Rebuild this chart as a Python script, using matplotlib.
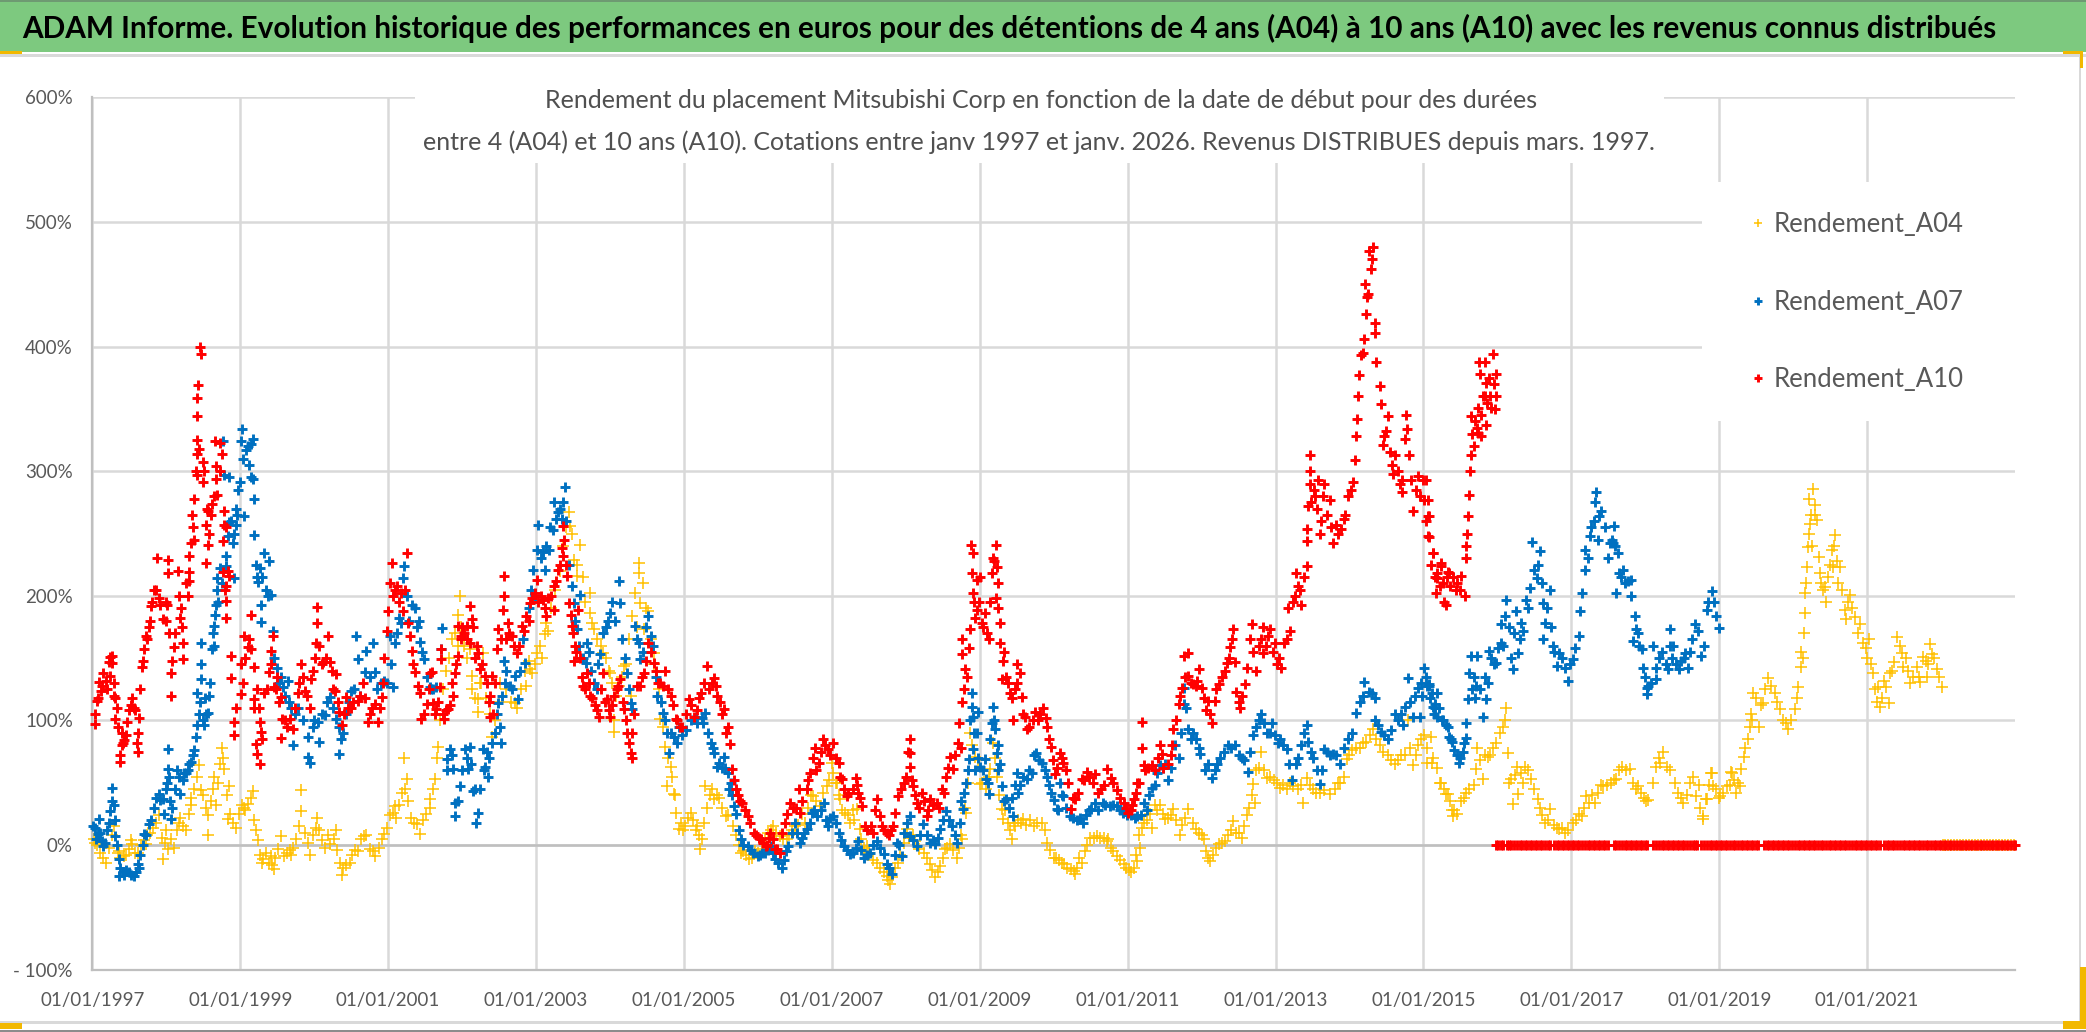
import matplotlib
matplotlib.use("Agg")
import matplotlib.pyplot as plt
from matplotlib.patches import Rectangle

W, H = 2086, 1032

title = "ADAM Informe. Evolution historique des performances en euros pour des détentions de 4 ans (A04) à 10 ans (A10) avec les revenus connus distribués"
subtitle_1 = "Rendement du placement Mitsubishi Corp en fonction de la date de début pour des durées"
subtitle_2 = "entre 4 (A04) et 10 ans (A10). Cotations entre janv 1997 et janv. 2026. Revenus DISTRIBUES depuis mars. 1997."

y_ticks = [-100, 0, 100, 200, 300, 400, 500, 600]
y_labels = ["- 100%", "0%", "100%", "200%", "300%", "400%", "500%", "600%"]
x_ticks = [1997, 1999, 2001, 2003, 2005, 2007, 2009, 2011, 2013, 2015, 2017, 2019, 2021]
x_labels = ["01/01/" + str(y) for y in x_ticks]

# values: (year, return in %)
a10 = [
    (1997.04,97),(1997.06,116),(1997.11,124),(1997.09,131),(1997.15,138),(1997.22,147),(1997.24,151),(1997.27,152),(1997.24,136),(1997.29,130),(1997.29,120),
    (1997.33,110),(1997.31,101),(1997.40,90),(1997.43,84),(1997.40,80),(1997.37,72),(1997.37,67),(1997.47,99),(1997.54,118),(1997.56,110),(1997.63,102),(1997.61,90),(1997.61,75),
    (1997.65,125),(1997.67,143),(1997.70,157),(1997.76,175),(1997.72,168),(1997.83,205),(1997.79,192),(1997.88,230),(1997.92,193),(1997.95,181),(1998.02,229),(1998.02,218),(1998.01,193),
    (1998.04,170),(1998.10,159),(1998.08,148),(1998.06,138),(1998.06,120),(1998.16,220),(1998.17,200),(1998.19,182),(1998.23,162),(1998.23,149),(1998.26,210),(1998.31,219),(1998.31,232),
    (1998.33,242),(1998.35,265),(1998.38,278),(1998.42,297),(1998.41,314),(1998.42,325),(1998.42,344),(1998.42,359),(1998.43,369),(1998.47,394),(1998.46,400),(1998.49,307),(1998.49,291),
    (1998.53,226),(1998.56,241),(1998.53,257),(1998.56,268),(1998.62,274),(1998.69,281),(1998.67,294),(1998.67,304),(1998.66,324),(1998.73,323),(1998.75,314),(1998.78,268),(1998.78,257),
    (1998.77,244),(1998.76,219),(1998.81,208),(1998.85,216),(1998.81,196),(1998.81,182),(1998.87,152),(1998.88,134),(1999.01,121),(1998.94,110),(1998.92,99),(1998.91,88),(1999.01,145),
    (1999.05,168),(1999.10,159),(1999.14,157),(1999.14,185),(1999.18,143),(1999.19,117),(1999.19,110),(1999.26,99),(1999.28,91),(1999.21,81),(1999.22,73),(1999.27,65),(1999.32,122),
    (1999.42,156),(1999.44,168),(1999.39,139),(1999.46,127),(1999.55,119),(1999.57,101),(1999.55,86),(1999.67,101),(1999.71,93),(1999.78,122),(1999.82,145),(1999.87,124),(1999.96,133),
    (1999.94,110),(2000.03,162),(2000.04,191),(2000.04,178),(2000.12,147),(2000.19,168),(2000.21,147),(2000.30,137),(2000.28,124),(2000.34,107),(2000.37,96),(2000.43,119),(2000.50,110),
    (2000.59,116),(2000.66,130),(2000.73,99),(2000.82,113),(2000.86,99),(2000.91,119),(2000.95,150),(2001.00,188),(2001.05,226),(2001.09,205),(2001.18,202),(2001.25,234),(2001.20,188),
    (2001.29,168),(2001.32,156),(2001.36,139),(2001.43,122),(2001.45,101),(2001.52,113),(2001.59,139),
    (2001.56,138),(2001.61,114),(2001.65,109),(2001.70,127),(2001.72,149),(2001.72,157),(2001.76,101),(2001.81,109),(2001.88,120),(2001.90,138),(2001.95,152),(2001.95,176),(2001.99,168),
    (2002.06,176),(2002.10,192),(2002.13,181),(2002.10,162),(2002.22,154),(2002.24,141),(2002.31,136),(2002.40,136),(2002.38,120),(2002.38,103),(2002.47,157),(2002.49,173),(2002.56,216),
    (2002.57,200),(2002.55,189),(2002.62,178),(2002.67,168),(2002.74,154),(2002.81,176),(2002.87,184),(2002.92,194),(2002.99,202),(2003.01,213),(2003.10,197),(2003.14,184),(2003.24,189),
    (2003.24,208),(2003.30,221),(2003.37,232),(2003.38,245),(2003.37,256),(2003.42,216),(2003.44,194),(2003.48,176),(2003.53,160),(2003.51,148),(2003.57,189),(2003.64,128),(2003.69,138),
    (2003.73,120),(2003.80,112),(2003.85,103),(2003.91,138),(2003.96,117),(2004.00,103),(2004.05,120),(2004.14,133),(2004.19,109),(2004.23,90),(2004.28,74),(2004.30,70),(2004.30,90),
    (2004.37,128),(2004.46,138),(2004.52,162),(2004.59,146),(2004.68,130),(2004.75,140),(2004.82,120),(2004.89,101),(2004.95,95),(2005.07,117),(2005.14,103),(2005.23,122),(2005.31,144),
    (2005.41,134),(2005.45,120),(2005.54,109),(2005.59,95),(2005.62,81),(2005.65,61),(2005.70,45),(2005.79,34),(2005.86,23),(2005.95,10),(2006.04,5),(2006.11,-1),(2006.15,6),
    (2006.17,10),(2006.26,-3),(2006.30,-6),(2006.37,18),(2006.44,34),(2006.55,45),(2006.57,26),(2006.66,45),(2006.71,58),(2006.77,78),(2006.82,66),(2006.88,85),(2006.95,77),(2007.02,82),
    (2007.09,66),(2007.14,53),(2007.20,39),(2007.32,54),(2007.36,42),(2007.41,31),(2007.45,15),(2007.56,10),(2007.61,37),(2007.65,23),(2007.74,10),(2007.83,15),(2007.86,26),(2007.90,39),
    (2007.97,50),(2008.00,55),(2008.05,85),(2008.05,74),(2008.06,63),(2008.10,47),(2008.15,34),(2008.22,42),(2008.28,23),(2008.33,37),(2008.42,34),(2008.49,45),(2008.55,55),(2008.60,71),
    (2008.64,61),(2008.71,82),(2008.72,98),(2008.76,115),(2008.80,141),(2008.76,153),(2008.76,165),(2008.86,158),(2008.87,173),(2008.88,241),(2008.91,234),(2008.89,218),(2008.91,202),
    (2008.96,213),(2009.00,215),(2008.96,189),(2008.94,182),(2009.05,175),(2009.07,186),(2009.12,165),(2009.14,195),(2009.16,218),(2009.18,230),(2009.22,241),(2009.23,223),(2009.25,210),
    (2009.22,198),(2009.27,178),(2009.27,162),(2009.33,155),(2009.30,133),(2009.36,135),(2009.41,122),(2009.50,145),(2009.51,130),(2009.57,119),(2009.45,100),(2009.61,103),(2009.64,93),
    (2009.75,107),(2009.86,110),(2009.91,95),(2009.97,79),(2010.02,57),(2010.09,74),(2010.13,66),(2010.20,50),(2010.24,29),(2010.29,37),(2010.38,53),(2010.45,59),(2010.56,57),(2010.60,42),(2010.72,61),
    (2010.77,54),(2010.86,44),(2010.95,34),(2011.04,28),(2011.08,37),(2011.15,50),(2011.20,99),(2011.20,78),(2011.22,64),(2011.33,64),(2011.44,80),(2011.46,73),(2011.55,65),(2011.60,80),
    (2011.62,93),(2011.69,113),(2011.73,126),(2011.76,152),(2011.81,154),(2011.82,136),(2011.89,129),(2011.97,141),(2012.00,126),(2012.09,116),(2012.14,98),(2012.18,116),(2012.23,129),
    (2012.34,146),(2012.39,159),(2012.43,173),(2012.45,147),(2012.47,123),(2012.52,110),(2012.59,129),(2012.62,142),(2012.73,140),(2012.68,177),(2012.70,155),(2012.83,175),(2012.83,154),
    (2012.92,173),(2012.99,162),(2013.08,142),(2013.12,162),(2013.19,172),(2013.17,190),(2013.31,208),(2013.28,218),(2013.35,193),(2013.42,224),(2013.42,244),(2013.42,254),(2013.44,272),
    (2013.46,313),(2013.46,300),(2013.46,290),(2013.58,293),(2013.53,280),(2013.62,260),(2013.60,250),(2013.66,290),(2013.73,277),(2013.78,242),(2013.82,257),(2013.89,254),(2013.98,280),
    (2013.94,265),(2014.05,291),(2014.07,309),(2014.10,342),(2014.09,328),(2014.13,377),(2014.16,393),(2014.19,406),(2014.21,450),(2014.23,426),(2014.25,442),(2014.27,477),(2014.32,480),
    (2014.29,462),(2014.34,419),(2014.35,411),(2014.36,388),(2014.41,368),(2014.43,354),(2014.45,321),(2014.52,344),(2014.50,332),(2014.61,313),(2014.59,298),(2014.77,345),(2014.78,334),
    (2014.75,326),(2014.81,313),(2014.71,293),(2014.71,283),(2014.83,293),(2014.86,268),(2014.92,296),(2014.99,293),(2015.01,277),(2015.07,264),(2015.08,247),(2015.13,234),(2015.19,214),
    (2015.24,224),(2015.28,195),(2015.33,219),(2015.03,293),(2015.06,277),(2015.06,264),(2015.06,248),(2015.13,234),(2015.19,218),(2015.17,202),(2015.30,193),(2015.24,226),(2015.35,218),
    (2015.44,205),(2015.51,216),(2015.56,200),(2015.57,230),(2015.58,240),(2015.59,250),(2015.60,264),(2015.61,281),(2015.63,300),(2015.65,313),(2015.68,320),(2015.65,344),(2015.74,331),
    (2015.78,328),(2015.85,337),(2015.74,351),(2015.75,388),(2015.83,388),(2015.76,378),(2015.85,371),(2015.83,360),(2015.94,394),(2015.98,378),(2015.98,360),(2015.92,351),
]
# second pass over the same clouds
a10_more = [
    (1997.03,105),(1997.08,118),(1997.13,128),(1997.18,132),(1997.20,125),(1997.26,146),(1997.31,118),(1997.35,95),(1997.42,82),(1997.45,88),(1997.50,108),(1997.52,112),(1997.58,108),(1997.60,82),
    (1997.69,148),(1997.74,165),(1997.78,180),(1997.81,195),(1997.86,205),(1997.90,198),(1997.99,195),(1998.00,180),(1998.12,170),(1998.20,190),(1998.21,175),(1998.29,200),(1998.30,212),(1998.36,255),
    (1998.37,245),(1998.40,300),(1998.44,318),(1998.51,300),(1998.55,270),(1998.58,250),(1998.60,265),(1998.64,280),(1998.72,300),(1998.80,255),(1998.83,220),(1998.79,205),(1999.03,130),(1999.07,150),
    (1999.12,165),(1999.23,125),(1999.25,110),(1999.30,85),(1999.36,125),(1999.41,145),(1999.48,125),(1999.50,135),(1999.53,115),(1999.60,100),(1999.63,95),(1999.74,110),(1999.80,130),(1999.85,135),
    (1999.90,120),(1999.98,140),(2000.01,150),(2000.07,160),(2000.10,145),(2000.16,150),(2000.24,140),(2000.26,125),(2000.32,115),(2000.40,105),(2000.46,110),(2000.53,115),(2000.62,120),(2000.69,118),
    (2000.76,105),(2000.78,110),(2000.89,110),(2000.93,130),(2000.98,172),(2001.03,210),(2001.07,200),(2001.12,208),(2001.15,195),(2001.23,205),(2001.27,178),(2001.34,145),(2001.40,128),(2001.48,105),(2001.55,125),
    (2001.63,105),(2001.67,115),(2001.74,105),(2001.78,108),(2001.84,112),(2001.86,130),(2001.92,145),(2001.98,165),(2002.00,175),(2002.03,170),(2002.07,165),(2002.15,175),(2002.18,150),(2002.20,160),
    (2002.27,145),(2002.33,130),(2002.36,115),(2002.42,105),(2002.44,130),(2002.52,165),(2002.60,165),(2002.64,170),(2002.70,160),(2002.77,160),(2002.83,172),(2002.90,180),(2002.95,198),(2003.03,195),
    (2003.06,200),(2003.12,190),(2003.16,198),(2003.20,200),(2003.27,212),(2003.33,225),(2003.35,238),(2003.41,225),(2003.47,185),(2003.50,170),(2003.54,155),(2003.59,150),(2003.62,135),(2003.66,125),
    (2003.71,130),(2003.76,118),(2003.83,108),(2003.88,125),(2003.93,115),(2003.98,108),(2004.03,112),(2004.09,125),(2004.11,128),(2004.17,115),(2004.21,100),(2004.26,82),(2004.33,105),(2004.40,128),
    (2004.43,135),(2004.49,148),(2004.56,155),(2004.62,140),(2004.65,130),(2004.72,128),(2004.78,125),(2004.85,112),(2004.91,100),(2004.98,95),(2005.03,105),(2005.10,112),(2005.18,108),(2005.20,118),
    (2005.27,130),(2005.34,125),(2005.38,130),(2005.43,128),(2005.49,115),(2005.52,105),(2005.57,90),(2005.67,52),(2005.73,40),(2005.76,35),(2005.82,28),(2005.89,18),(2005.98,8),(2006.01,6),(2006.07,2),(2006.12,0),
    (2006.20,5),(2006.23,-3),(2006.33,10),(2006.40,25),(2006.47,30),(2006.52,30),(2006.60,35),(2006.68,52),(2006.75,70),(2006.79,60),(2006.85,75),(2006.91,80),(2006.98,72),(2007.05,70),(2007.11,55),
    (2007.17,45),(2007.22,42),(2007.28,45),(2007.34,48),(2007.38,38),(2007.48,12),(2007.53,15),(2007.59,28),(2007.68,15),(2007.71,12),(2007.77,8),(2007.80,12),(2007.93,45),(2008.03,75),(2008.08,52),
    (2008.13,40),(2008.18,30),(2008.25,35),(2008.30,28),(2008.37,32),(2008.45,30),(2008.52,42),(2008.57,62),(2008.67,72),(2008.74,78),(2008.79,125),(2008.83,135),(2008.92,195),(2008.99,195),(2009.03,178),
    (2009.10,170),(2009.19,228),(2009.24,190),(2009.31,148),(2009.38,130),(2009.44,118),(2009.47,125),(2009.54,138),(2009.59,105),(2009.66,95),(2009.72,100),(2009.79,100),(2009.82,105),(2009.89,102),
    (2009.94,85),(2009.99,68),(2010.05,62),(2010.11,70),(2010.16,60),(2010.26,38),(2010.33,42),(2010.41,52),(2010.48,55),(2010.53,50),(2010.64,45),(2010.68,48),
    (2010.80,50),(2010.90,38),(2010.98,30),(2011.01,26),(2011.06,32),(2011.11,42),(2011.13,50),(2011.24,60),(2011.28,62),(2011.37,60),(2011.41,70),(2011.48,62),(2011.58,72),(2011.66,100),(2011.71,120),
    (2011.78,135),(2011.85,130),(2011.92,128),(2011.94,132),(2012.03,118),(2012.06,108),(2012.12,105),(2012.20,125),(2012.28,135),(2012.31,140),(2012.37,150),(2012.41,165),(2012.50,115),(2012.55,120),
    (2012.66,165),(2012.77,160),(2012.80,165),(2012.87,160),(2012.90,168),(2012.96,155),(2013.02,145),(2013.05,150),(2013.15,165),(2013.24,195),(2013.26,200),(2013.33,205),(2013.38,215),(2013.48,275),
    (2013.52,285),(2013.56,270),(2013.64,280),(2013.69,265),(2013.75,255),(2013.85,250),(2013.92,262),(2014.02,285),(2014.12,360),(2014.18,395),(2014.24,440),(2014.30,470),(2014.47,328),(2014.55,315),
    (2014.57,305),(2014.66,300),(2014.68,290),(2014.90,285),(2014.96,280),(2015.04,260),(2015.10,225),(2015.15,215),(2015.22,208),(2015.27,210),(2015.32,215),(2015.36,208),(2015.40,215),(2015.46,210),
    (2015.50,205),(2015.66,330),(2015.70,340),(2015.72,335),(2015.78,345),(2015.80,360),(2015.86,355),(2015.88,375),(2015.90,360),(2015.95,370),(2015.97,350),
]
a10_zero_dates = [
    2015.98,2016.01,2016.05,2016.08,2016.13,2016.16,2016.19,2016.23,2016.26,2016.30,2016.33,2016.37,2016.40,2016.44,2016.47,2016.51,2016.54,2016.58,2016.61,2016.65,2016.68,2016.71,2016.76,2016.80,2016.83,2016.87,2016.90,2016.94,2016.97,
    2017.01,2017.04,2017.08,2017.11,2017.15,2017.18,2017.22,2017.25,2017.29,2017.32,2017.36,2017.39,2017.43,2017.46,2017.50,2017.58,2017.61,2017.65,2017.68,2017.72,2017.75,2017.79,2017.82,2017.86,2017.89,2017.93,2017.96,2018.00,2018.03,
    2018.11,2018.15,2018.18,2018.22,2018.25,2018.29,2018.32,2018.36,2018.39,2018.43,2018.46,2018.50,2018.53,2018.57,2018.60,2018.64,2018.67,2018.70,2018.76,2018.80,2018.83,2018.87,2018.90,2018.94,2018.97,
    2019.01,2019.04,2019.08,2019.11,2019.15,2019.18,2019.22,2019.25,2019.29,2019.32,2019.36,2019.39,2019.43,2019.46,2019.50,2019.53,2019.60,2019.64,2019.67,2019.71,2019.74,2019.78,2019.81,2019.85,2019.88,2019.92,2019.95,2019.99,
    2020.02,2020.06,2020.09,2020.13,2020.16,2020.20,2020.23,2020.27,2020.30,2020.34,2020.37,2020.41,2020.44,2020.48,2020.51,2020.55,2020.58,2020.62,2020.65,2020.69,2020.72,2020.76,2020.79,2020.83,2020.86,2020.90,2020.93,2020.97,
    2021.00,2021.04,2021.07,2021.11,2021.14,2021.17,2021.23,2021.27,2021.30,2021.34,2021.37,2021.41,2021.44,2021.48,2021.51,2021.55,2021.58,2021.62,2021.65,2021.69,2021.72,2021.76,2021.79,2021.83,2021.86,2021.90,2021.93,2021.97,
    2022.00,2022.04,2022.07,2022.11,2022.14,2022.18,2022.21,2022.25,2022.28,2022.32,2022.35,2022.39,2022.42,2022.46,2022.49,2022.53,2022.56,2022.60,2022.63,2022.67,2022.70,2022.74,2022.77,2022.81,2022.84,2022.88,2022.91,2022.95,2022.98,2023.00,
]

a07 = [
    (1997.03,14),(1997.09,21),(1997.07,9),(1997.15,-1),(1997.20,12),(1997.24,27),(1997.27,46),(1997.29,32),(1997.31,7),(1997.36,-11),(1997.36,-25),(1997.43,-24),(1997.49,-22),(1997.56,-25),
    (1997.63,-18),(1997.65,-8),(1997.70,9),(1997.76,17),(1997.83,30),(1997.90,41),(1997.95,37),(1998.02,77),(1998.02,61),(1998.01,50),(1998.08,30),(1998.06,21),(1998.17,55),(1998.19,41),
    (1998.26,58),(1998.33,67),(1998.38,76),(1998.40,87),(1998.42,96),(1998.51,96),(1998.42,122),(1998.47,133),(1998.47,145),(1998.47,162),(1998.56,106),(1998.59,130),(1998.62,157),(1998.65,176),
    (1998.67,193),(1998.69,214),(1998.73,222),(1998.81,224),(1998.92,214),(1998.90,242),(1998.94,257),(1998.85,259),(1998.94,270),(1998.78,297),(1998.85,295),(1998.76,324),(1998.99,291),
    (1999.02,334),(1999.01,324),(1999.08,317),(1999.17,326),(1999.12,305),(1999.17,294),(1999.19,278),(1999.05,264),(1999.18,249),(1999.21,225),(1999.32,234),(1999.39,228),(1999.24,211),
    (1999.42,201),(1999.28,193),(1999.28,179),(1999.44,172),(1999.49,142),(1999.58,127),(1999.64,132),(1999.69,110),(1999.71,80),(1999.91,71),(1999.94,66),(1999.91,87),(2000.05,99),(2000.07,83),
    (2000.21,119),(2000.14,104),(2000.30,101),(2000.34,73),(2000.39,90),(2000.50,124),(2000.57,168),(2000.59,149),(2000.70,156),(2000.80,162),(2000.68,139),(2000.82,139),(2000.95,132),(2001.07,127),
    (2001.02,168),(2001.09,162),(2001.14,182),(2001.22,224),(2001.20,214),(2001.32,193),(2001.41,180),(2001.43,163),(2001.48,149),(2001.57,127),
    (2001.73,174),(2001.72,157),(2001.65,127),(2001.58,125),(2001.83,77),(2001.79,69),(2001.88,61),(2001.90,34),(2001.90,23),(2001.97,47),(2002.04,77),(2002.08,61),(2002.10,79),(2002.15,43),
    (2002.24,45),(2002.21,26),(2002.19,18),(2002.28,77),(2002.31,63),(2002.35,55),(2002.40,82),(2002.49,114),(2002.51,95),(2002.53,82),(2002.56,148),(2002.58,130),(2002.65,128),(2002.71,136),
    (2002.75,117),(2002.85,146),(2002.96,221),(2003.01,237),(2003.03,257),(2003.12,221),(2003.17,237),(2003.24,275),(2003.23,253),(2003.30,267),(2003.39,287),(2003.37,275),(2003.48,208),
    (2003.51,194),(2003.60,201),(2003.55,173),(2003.69,162),(2003.67,146),(2003.78,130),(2003.87,153),(2003.91,170),(2004.00,186),(2004.12,212),(2004.14,194),(2004.16,165),(2004.23,138),
    (2004.28,114),(2004.30,109),(2004.34,176),(2004.39,162),(2004.41,149),(2004.52,184),(2004.55,168),(2004.64,120),(2004.71,106),(2004.77,90),(2004.80,74),(2004.86,87),(2004.93,95),
    (2005.18,98),(2005.29,106),(2005.32,90),(2005.41,74),(2005.45,63),(2005.54,71),(2005.59,58),(2005.61,45),(2005.68,31),(2005.77,5),(2005.86,-1),(2006.00,-9),(2006.09,-6),(2006.18,-1),
    (2006.17,-3),(2006.23,-11),(2006.32,-18),(2006.41,-1),(2006.50,18),(2006.57,2),(2006.66,13),(2006.73,26),(2006.80,23),(2006.89,34),(2006.95,15),(2007.02,23),(2007.09,10),(2007.16,-1),
    (2007.25,-7),(2007.36,3),(2007.43,-10),(2007.52,-6),(2007.61,3),(2007.70,-7),(2007.81,-23),(2007.88,2),(2007.95,-9),(2008.06,23),(2008.06,7),(2008.15,-1),(2008.23,17),(2008.33,2),
    (2008.40,1),(2008.46,13),(2008.55,27),(2008.62,15),(2008.69,2),(2008.73,18),(2008.78,29),(2008.79,42),(2008.82,50),(2008.86,69),(2008.89,122),(2008.89,111),(2008.91,103),(2008.98,107),
    (2008.96,90),(2008.91,77),(2009.00,63),(2009.07,69),(2009.09,53),(2009.12,41),(2009.16,98),(2009.18,111),(2009.21,93),(2009.23,74),(2009.27,65),(2009.30,47),(2009.36,37),(2009.45,23),
    (2009.50,58),(2009.52,42),(2009.64,53),(2009.70,58),(2009.76,74),(2009.84,66),(2009.91,55),(2009.97,42),(2010.04,29),(2010.09,50),(2010.13,39),(2010.22,23),(2010.40,18),(2010.51,29),
    (2010.67,34),(2010.76,31),
    (2010.86,31),(2010.99,24),(2011.13,23),(2011.22,34),(2011.26,28),(2011.33,46),(2011.54,52),(2011.44,64),(2011.51,65),(2011.64,80),(2011.69,70),(2011.76,113),(2011.76,126),(2011.82,93),
    (2011.93,85),(2011.98,73),(2012.09,65),(2012.14,54),(2012.25,70),(2012.36,80),(2012.45,80),(2012.54,70),(2012.63,59),(2012.70,88),(2012.81,105),(2012.88,90),(2012.95,98),(2013.06,85),
    (2013.15,77),(2013.22,52),(2013.31,70),(2013.42,96),(2013.44,83),(2013.51,70),(2013.60,49),(2013.66,77),(2013.78,73),(2013.87,65),(2013.98,85),(2014.09,106),(2014.20,131),(2014.27,123),
    (2014.34,118),(2014.34,100),(2014.43,91),(2014.52,85),(2014.61,105),(2014.72,96),(2014.75,111),(2014.79,134),(2014.86,103),(2014.93,126),(2015.01,142),(2015.08,129),(2015.15,113),(2015.21,110),
    (2015.30,96),(2015.35,87),
    (2015.18,122),(2015.16,110),(2015.05,128),(2014.98,120),(2014.95,103),(2015.08,128),(2015.13,111),(2015.19,103),(2015.33,95),(2015.39,83),(2015.48,66),(2015.53,75),(2015.58,86),(2015.58,98),
    (2015.60,117),(2015.62,138),(2015.64,152),(2015.73,152),(2015.71,128),(2015.80,103),(2015.85,117),(2015.87,130),(2015.89,156),(2015.98,146),(2016.05,162),(2016.05,177),(2016.12,197),
    (2016.10,184),(2016.21,141),(2016.28,154),(2016.23,170),(2016.25,188),(2016.32,178),(2016.39,197),(2016.44,206),(2016.47,243),(2016.50,221),(2016.58,236),(2016.53,214),(2016.71,205),
    (2016.62,194),(2016.64,178),(2016.62,165),(2016.75,160),(2016.84,154),(2016.80,144),(2016.95,132),(2017.02,149),(2017.10,168),(2017.12,188),(2017.14,202),(2017.18,221),(2017.19,237),
    (2017.25,248),(2017.32,275),(2017.33,283),(2017.36,245),(2017.38,264),(2017.49,230),(2017.58,256),(2017.56,242),(2017.63,234),(2017.70,221),(2017.65,218),(2017.61,202),(2017.81,213),
    (2017.81,200),(2017.86,184),(2017.88,173),(2017.84,164),(2017.95,157),(2017.97,142),(2018.02,121),(2018.04,128),(2018.14,133),(2018.11,160),(2018.34,173),(2018.15,142),(2018.34,160),
    (2018.31,141),(2018.38,160),(2018.45,141),(2018.58,142),(2018.54,154),(2018.67,177),(2018.63,165),(2018.80,160),(2018.75,152),(2018.90,204),(2018.83,189),(2018.95,184),(2019.00,174),
]
a07_more = [
    (1997.01,15),(1997.05,5),(1997.10,10),(1997.13,3),(1997.17,2),(1997.22,18),(1997.26,35),(1997.30,20),(1997.33,0),(1997.38,-18),(1997.41,-22),(1997.45,-20),(1997.52,-24),(1997.59,-22),(1997.61,-15),
    (1997.68,0),(1997.72,8),(1997.79,20),(1997.86,38),(1997.92,36),(1997.97,25),(1997.99,45),(1998.03,55),(1998.05,35),(1998.12,45),(1998.14,60),(1998.22,52),(1998.24,58),(1998.29,60),(1998.31,65),
    (1998.36,72),(1998.44,105),(1998.46,115),(1998.49,100),(1998.52,118),(1998.54,105),(1998.58,120),(1998.63,170),(1998.64,160),(1998.66,185),(1998.68,205),(1998.70,195),(1998.75,210),(1998.80,232),
    (1998.83,248),(1998.87,260),(1998.91,250),(1998.96,265),(1998.97,285),(1999.04,310),(1999.10,320),(1999.14,322),(1999.15,295),(1999.23,215),(1999.26,222),(1999.30,215),(1999.35,205),(1999.37,200),
    (1999.46,150),(1999.52,130),(1999.55,135),(1999.60,120),(1999.66,115),(1999.74,105),(1999.78,110),(1999.85,100),(1999.98,95),(2000.00,100),(2000.10,105),(2000.17,115),(2000.25,110),(2000.33,95),
    (2000.36,85),(2000.43,105),(2000.47,115),(2000.54,125),(2000.62,120),(2000.75,135),(2000.85,125),(2000.90,130),(2000.98,130),(2001.04,145),(2001.12,170),(2001.17,178),(2001.25,200),(2001.28,180),
    (2001.36,190),(2001.39,175),(2001.46,155),(2001.52,135),(2001.61,125),
    (2001.80,60),(2001.86,72),(2001.94,35),(2002.00,60),(2002.06,70),(2002.12,65),(2002.17,45),(2002.30,60),(2002.34,75),(2002.37,70),(2002.44,90),(2002.47,105),(2002.54,120),(2002.60,140),(2002.68,125),
    (2002.78,140),(2002.82,165),(2002.90,190),(2002.93,205),(2002.98,200),(2003.06,230),(2003.09,235),(2003.14,240),(2003.19,255),(2003.27,262),(2003.33,270),(2003.35,262),(2003.41,260),(2003.45,225),
    (2003.53,180),(2003.58,160),(2003.63,150),(2003.72,155),(2003.74,140),(2003.82,125),(2003.84,145),(2003.94,175),(2003.97,180),(2004.03,195),(2004.07,180),(2004.20,150),(2004.26,125),(2004.36,165),
    (2004.44,155),(2004.48,175),(2004.58,160),(2004.62,135),(2004.69,115),(2004.74,100),(2004.82,90),(2004.90,82),(2004.97,88),(2005.03,92),(2005.10,100),(2005.16,103),(2005.24,102),(2005.26,98),
    (2005.36,82),(2005.39,78),(2005.48,66),(2005.51,62),(2005.56,62),(2005.63,50),(2005.65,40),(2005.70,25),(2005.74,12),(2005.80,0),(2005.90,-4),(2005.94,-6),(2006.03,-8),(2006.06,-6),(2006.13,-4),
    (2006.20,-6),(2006.27,-14),(2006.35,-12),(2006.38,-5),(2006.46,10),(2006.53,10),(2006.60,6),(2006.62,10),(2006.70,18),(2006.76,28),(2006.85,28),(2006.92,20),(2006.98,22),(2007.05,18),(2007.13,4),
    (2007.20,-4),(2007.28,-6),(2007.32,-2),(2007.40,-4),(2007.48,-8),(2007.56,0),(2007.65,-2),(2007.74,-15),(2007.77,-18),(2007.85,-8),(2007.91,0),(2007.98,10),(2008.02,18),(2008.10,4),(2008.19,8),
    (2008.28,8),(2008.37,4),(2008.43,6),(2008.50,20),(2008.58,20),(2008.66,8),(2008.75,35),(2008.84,60),(2008.87,100),(2008.92,90),(2008.94,60),(2008.98,70),(2009.04,60),(2009.11,50),(2009.14,85),
    (2009.19,100),(2009.24,80),(2009.25,60),(2009.33,35),(2009.40,30),(2009.43,38),(2009.48,48),(2009.55,48),(2009.58,55),(2009.67,60),(2009.74,72),(2009.80,68),(2009.88,60),(2009.94,48),(2010.01,36),
    (2010.06,28),(2010.11,40),(2010.17,30),(2010.26,22),(2010.32,20),(2010.36,22),(2010.44,24),(2010.48,28),(2010.56,34),(2010.60,28),(2010.70,32),
    (2010.80,32),(2010.90,28),(2010.94,26),(2011.05,24),(2011.10,22),(2011.18,24),(2011.29,40),(2011.37,48),(2011.40,58),(2011.48,62),(2011.58,62),(2011.72,90),(2011.79,110),(2011.85,85),(2011.89,90),
    (2011.96,78),(2012.05,60),(2012.18,60),(2012.21,65),(2012.30,75),(2012.40,78),(2012.50,72),(2012.58,68),(2012.66,75),(2012.74,95),(2012.78,100),(2012.85,98),(2012.92,90),(2012.99,88),(2013.03,82),
    (2013.10,80),(2013.18,65),(2013.27,65),(2013.35,80),(2013.38,90),(2013.48,75),(2013.56,60),(2013.63,60),(2013.70,75),(2013.74,72),(2013.82,72),(2013.93,78),(2014.03,90),(2014.14,115),(2014.18,120),
    (2014.30,122),(2014.38,96),(2014.47,88),(2014.56,92),(2014.66,100),(2014.69,105),(2014.82,115),(2014.89,120),(2014.97,130),(2015.04,135),(2015.11,122),(2015.26,100),
    (2015.09,118),(2015.14,105),(2015.25,100),(2015.37,85),(2015.42,76),(2015.45,72),(2015.50,70),(2015.55,82),(2015.66,125),(2015.68,135),(2015.70,118),(2015.76,125),(2015.83,135),(2015.92,150),
    (2015.95,145),(2016.01,158),(2016.08,160),(2016.16,175),(2016.18,150),(2016.30,165),(2016.35,172),(2016.41,190),(2016.55,225),(2016.60,210),(2016.67,190),(2016.73,175),(2016.77,155),(2016.87,150),
    (2016.92,142),(2016.98,145),(2017.05,158),(2017.22,230),(2017.27,255),(2017.30,260),(2017.40,268),(2017.45,255),(2017.52,242),(2017.55,245),(2017.59,240),(2017.67,215),(2017.72,210),(2017.76,212),
    (2017.90,170),(2017.92,160),(2018.00,135),(2018.03,126),(2018.08,130),(2018.18,150),(2018.22,155),(2018.28,145),(2018.36,150),(2018.42,145),(2018.48,148),(2018.52,150),(2018.61,155),(2018.71,172),
    (2018.85,195),(2018.93,195),
]

a04 = [
    (1997.04,2),(1997.18,-14),(1997.29,15),(1997.36,-5),(1997.43,-9),(1997.52,4),(1997.58,-6),(1997.72,1),(1997.90,24),(1997.96,-11),(1998.00,12),(1998.10,-2),(1998.17,18),(1998.26,12),
    (1998.33,32),(1998.44,64),(1998.47,44),(1998.56,24),(1998.56,8),(1998.65,55),(1998.67,32),(1998.75,78),(1998.78,61),(1998.85,47),(1998.83,21),(1998.94,14),(1999.05,30),(1999.17,43),
    (1999.19,20),(1999.24,4),(1999.30,-14),(1999.42,-9),(1999.46,-19),(1999.55,7),(1999.69,-8),(1999.82,44),(1999.82,27),(1999.94,-8),(2000.04,22),(2000.10,4),(2000.21,1),(2000.30,12),
    (2000.37,-24),(2000.48,-14),(2000.59,-5),(2000.70,8),(2000.82,-9),(2000.95,9),(2001.09,31),(2001.21,70),(2001.25,53),(2001.27,35),(2001.39,17),(2001.43,9),(2001.57,30),
    (2001.56,37),(2001.63,53),(2001.67,79),(2001.97,200),(2001.95,185),(2002.10,157),(2002.13,136),(2002.22,117),(2002.22,107),(2002.24,130),(2002.28,154),(2002.40,87),(2002.51,130),(2002.71,114),
    (2002.74,110),(2002.87,128),(2002.92,141),(2003.01,154),(2003.05,160),(2003.12,169),(2003.14,178),(2003.44,267),(2003.46,256),(2003.51,229),(2003.60,241),(2003.55,216),(2003.73,202),
    (2003.73,186),(2003.78,173),(2003.91,154),(2004.00,138),(2004.05,91),(2004.05,100),(2004.19,144),(2004.30,184),(2004.34,202),(2004.39,226),(2004.39,218),(2004.41,194),(2004.46,173),
    (2004.28,120),(2004.52,188),(2004.59,154),(2004.68,101),(2004.75,79),(2004.82,63),(2004.77,47),(2004.86,41),(2004.89,26),(2004.93,13),(2005.02,15),(2005.09,26),(2005.18,15),(2005.22,-3),
    (2005.27,18),(2005.29,47),(2005.41,37),(2005.57,23),(2005.66,15),(2005.77,-6),(2005.88,-11),
    (2006.21,15),(2006.30,7),(2006.39,5),(2006.50,15),(2006.64,18),(2006.75,39),(2006.84,31),(2006.93,47),(2007.00,66),(2007.07,50),(2007.11,37),(2007.18,26),(2007.25,18),(2007.34,29),
    (2007.38,13),(2007.47,-1),(2007.61,-14),(2007.74,-25),(2007.79,-31),(2007.90,-14),(2008.01,13),(2008.10,8),(2008.24,-6),(2008.33,-15),(2008.40,-26),(2008.46,-17),(2008.53,-3),(2008.60,1),
    (2008.69,-10),(2008.76,5),(2008.82,26),(2008.87,90),(2008.94,71),(2009.00,49),(2009.14,61),(2009.18,82),(2009.23,55),(2009.30,29),(2009.32,21),(2009.43,5),(2009.48,15),(2009.59,21),
    (2009.73,15),(2009.84,18),(2009.91,2),(2010.00,-10),(2010.11,-14),(2010.24,-19),(2010.29,-23),(2010.38,-14),(2010.49,6),(2010.62,6),(2010.74,5),
    (2010.77,-2),(2010.86,-9),(2010.95,-15),(2011.04,-22),(2011.13,-13),(2011.17,-2),(2011.22,18),(2011.33,14),(2011.44,32),(2011.51,21),(2011.62,29),(2011.71,8),(2011.82,29),(2011.93,13),
    (2012.03,5),(2012.11,-13),(2012.20,-2),(2012.32,3),(2012.43,19),(2012.54,6),(2012.61,24),(2012.70,49),(2012.72,34),(2012.74,60),(2012.81,75),(2012.88,54),(2013.06,46),(2013.24,47),
    (2013.37,34),(2013.42,54),(2013.55,42),(2013.73,41),(2013.87,50),(2013.96,69),(2014.09,78),(2014.23,83),(2014.32,93),(2014.41,80),(2014.61,65),(2014.75,72),(2014.79,100),(2014.86,64),
    (2014.93,80),(2015.01,88),(2015.13,70),(2015.24,50),(2015.33,41),(2015.38,28),
    (2015.05,66),(2015.10,87),(2015.11,66),(2015.22,50),(2015.31,41),(2015.40,23),(2015.51,35),(2015.62,45),(2015.73,78),(2015.71,61),(2015.80,53),(2015.87,71),(2015.98,82),(2016.07,95),
    (2016.12,110),(2016.14,74),(2016.19,53),(2016.21,33),(2016.26,63),(2016.28,41),(2016.37,63),(2016.46,53),(2016.55,37),(2016.64,18),(2016.71,29),(2016.80,14),(2016.91,10),(2017.02,18),
    (2017.14,23),(2017.20,39),(2017.32,34),(2017.43,47),(2017.61,53),(2017.69,63),(2017.79,61),(2017.90,47),(2018.01,35),(2018.15,63),(2018.24,75),(2018.29,63),(2018.40,50),(2018.51,34),
    (2018.65,55),(2018.69,39),(2018.78,21),(2018.83,37),(2018.90,58),(2019.01,39),(2019.17,58),(2019.28,47),
    (2018.78,23),(2018.82,37),(2018.89,58),(2018.92,47),(2019.00,38),(2019.10,47),(2019.16,59),(2019.23,42),(2019.30,61),(2019.34,71),(2019.39,85),(2019.41,95),(2019.46,122),(2019.43,105),
    (2019.54,95),(2019.59,114),(2019.66,134),(2019.75,122),(2019.82,109),(2019.93,93),(2020.02,109),(2020.07,127),(2020.10,143),(2020.11,155),(2020.14,170),(2020.16,186),(2020.16,202),
    (2020.19,223),(2020.20,239),(2020.23,258),(2020.22,278),(2020.27,286),(2020.29,273),(2020.32,261),(2020.35,231),(2020.36,218),(2020.43,207),(2020.45,195),(2020.47,215),(2020.52,237),
    (2020.57,249),(2020.54,223),(2020.63,223),(2020.61,210),(2020.70,189),(2020.77,201),(2020.72,181),(2020.84,183),(2020.91,177),(2020.95,162),(2021.02,165),(2021.00,150),(2021.08,138),
    (2021.15,127),(2021.17,111),(2021.26,127),(2021.29,114),(2021.31,138),(2021.36,147),(2021.40,167),(2021.47,154),(2021.49,143),(2021.58,130),(2021.67,143),(2021.76,151),(2021.72,131),
    (2021.85,161),(2021.88,153),(2021.81,135),(2021.94,141),(2022.01,127),
]
a04_more = [
    (1997.02,5),(1997.06,0),(1997.10,-6),(1997.14,-10),(1997.22,-2),(1997.26,8),(1997.34,-6),(1997.38,-10),(1997.46,-8),(1997.50,-3),(1997.54,1),(1997.62,-6),(1997.66,0),(1997.70,4),(1997.74,8),
    (1997.78,10),(1997.82,14),(1997.86,18),(1997.94,6),(1997.98,2),(1998.02,-3),(1998.06,5),(1998.14,12),(1998.18,22),(1998.22,15),(1998.30,25),(1998.34,38),(1998.38,45),(1998.42,55),(1998.50,40),
    (1998.53,30),(1998.60,35),(1998.63,45),(1998.70,50),(1998.73,65),(1998.76,70),(1998.82,40),(1998.86,25),(1998.90,18),(1998.98,25),(1999.02,32),(1999.06,28),(1999.10,33),(1999.14,38),(1999.21,12),
    (1999.27,-8),(1999.31,-11),(1999.35,-6),(1999.39,-14),(1999.43,-16),(1999.47,-10),(1999.51,-3),(1999.59,-9),(1999.63,-6),(1999.67,-4),(1999.71,-2),(1999.75,5),(1999.79,15),(1999.87,10),(1999.91,2),
    (1999.99,8),(2000.03,14),(2000.07,12),(2000.15,-2),(2000.19,8),(2000.27,5),(2000.31,-4),(2000.35,-14),(2000.39,-18),(2000.43,-16),(2000.51,-8),(2000.55,-4),(2000.63,5),(2000.67,7),(2000.75,-3),
    (2000.79,-5),(2000.87,-2),(2000.91,5),(2000.99,14),(2001.03,24),(2001.07,26),(2001.11,22),(2001.15,32),(2001.19,42),(2001.23,45),(2001.31,22),(2001.35,18),(2001.47,20),(2001.51,25),
    (2001.60,45),(2001.66,70),(2001.70,100),(2001.74,125),(2001.78,140),(2001.82,150),(2001.86,165),(2001.90,170),(2001.94,160),(2001.98,175),(2002.02,160),(2002.06,150),(2002.14,125),(2002.18,118),
    (2002.26,130),(2002.32,118),(2002.38,105),(2002.44,100),(2002.50,115),(2002.60,125),(2002.66,115),(2002.80,125),(2002.85,140),(2002.90,148),(2002.94,138),(2002.98,145),(2003.08,150),(2003.16,172),
    (2003.20,190),(2003.26,205),(2003.32,220),(2003.36,240),(2003.40,255),(2003.48,250),(2003.56,225),(2003.64,215),(2003.66,195),(2003.76,178),(2003.82,165),(2003.88,160),(2003.94,150),(2003.98,140),
    (2004.02,130),(2004.08,120),(2004.12,128),(2004.16,135),(2004.22,145),(2004.26,165),(2004.36,175),(2004.44,210),(2004.48,190),(2004.56,165),(2004.60,145),(2004.66,125),(2004.72,95),(2004.78,70),
    (2004.84,55),(2004.88,40),(2004.96,18),(2004.99,12),(2005.05,22),(2005.12,20),(2005.16,12),(2005.20,8),(2005.25,5),(2005.31,30),(2005.35,40),(2005.38,45),(2005.44,40),(2005.48,38),(2005.52,30),
    (2005.60,24),(2005.70,8),(2005.74,0),(2005.80,-5),(2005.84,-8),(2005.92,-10),(2005.96,-5),(2006.00,-6),(2006.05,-3),(2006.10,5),(2006.14,10),
    (2006.18,12),(2006.25,10),(2006.34,5),(2006.42,8),(2006.46,12),(2006.54,16),(2006.60,25),(2006.68,30),(2006.72,40),(2006.78,35),(2006.88,42),(2006.96,52),(2007.02,58),(2007.05,50),(2007.09,40),
    (2007.14,28),(2007.22,24),(2007.28,28),(2007.30,20),(2007.40,5),(2007.43,-2),(2007.50,-6),(2007.55,-12),(2007.65,-18),(2007.70,-22),(2007.76,-28),(2007.82,-26),(2007.86,-18),(2007.92,-8),(2007.98,2),
    (2008.04,6),(2008.12,3),(2008.18,-3),(2008.28,-10),(2008.36,-20),(2008.43,-22),(2008.50,-10),(2008.56,-2),(2008.64,-4),(2008.72,-2),(2008.74,8),(2008.80,30),(2008.84,50),(2008.90,80),(2008.98,68),
    (2009.03,50),(2009.08,45),(2009.12,55),(2009.20,70),(2009.26,40),(2009.34,28),(2009.38,18),(2009.41,12),(2009.46,18),(2009.52,20),(2009.56,18),(2009.62,16),(2009.68,20),(2009.78,18),(2009.88,12),
    (2009.95,-4),(2010.03,-10),(2010.07,-12),(2010.14,-15),(2010.18,-18),(2010.27,-21),(2010.32,-18),(2010.34,-10),(2010.42,-5),(2010.45,0),(2010.54,6),(2010.58,7),(2010.68,6),(2010.72,3),
    (2010.80,-5),(2010.90,-12),(2010.98,-18),(2011.02,-20),(2011.08,-18),(2011.11,-8),(2011.15,8),(2011.19,14),(2011.26,20),(2011.30,25),(2011.37,32),(2011.40,28),(2011.48,25),(2011.55,22),(2011.58,24),
    (2011.66,20),(2011.74,16),(2011.78,22),(2011.88,18),(2011.97,10),(2012.00,8),(2012.06,-5),(2012.08,-10),(2012.15,-8),(2012.24,1),(2012.28,2),(2012.36,8),(2012.40,12),(2012.47,10),(2012.50,10),
    (2012.57,15),(2012.64,30),(2012.68,40),(2012.77,62),(2012.84,60),(2012.92,55),(2012.98,52),(2013.02,50),(2013.10,48),(2013.16,45),(2013.20,50),(2013.30,45),(2013.34,48),(2013.46,48),(2013.50,45),
    (2013.60,42),(2013.66,44),(2013.80,45),(2013.84,50),(2013.92,55),(2014.00,72),(2014.04,76),(2014.14,78),(2014.18,82),(2014.28,88),(2014.36,85),(2014.46,75),(2014.52,72),(2014.56,68),(2014.66,68),
    (2014.70,72),(2014.82,78),(2014.90,72),(2014.97,85),(2015.05,78),(2015.18,62),(2015.28,45),(2015.36,35),(2015.42,28),(2015.46,25),(2015.55,38),(2015.58,42),(2015.68,48),(2015.76,68),(2015.83,72),
    (2015.90,72),(2015.94,78),(2016.03,90),(2016.10,100),(2016.16,50),(2016.24,56),(2016.32,58),(2016.34,50),(2016.42,60),(2016.50,45),(2016.58,30),(2016.60,24),(2016.68,20),(2016.76,16),(2016.84,13),
    (2016.88,14),(2016.96,12),(2017.06,20),(2017.10,25),(2017.17,30),(2017.24,34),(2017.28,40),(2017.36,42),(2017.40,48),(2017.48,48),(2017.54,50),(2017.58,52),(2017.64,60),(2017.74,60),(2017.84,50),
    (2017.88,45),(2017.94,42),(2017.98,38),(2018.04,36),(2018.10,50),(2018.18,70),(2018.20,66),(2018.34,60),(2018.44,42),(2018.48,38),(2018.56,40),(2018.60,50),(2018.72,48),(2018.74,30),(2018.86,48),
    (2018.96,45),(2019.05,42),(2019.14,48),(2019.20,52),(2019.26,50),
    (2019.35,78),(2019.44,100),(2019.50,118),(2019.57,112),(2019.62,125),(2019.70,128),(2019.78,115),(2019.86,100),(2019.90,98),(2019.97,100),(2020.05,118),(2020.13,150),(2020.18,210),(2020.21,250),
    (2020.24,265),(2020.25,240),(2020.30,265),(2020.38,210),(2020.40,205),(2020.50,225),(2020.55,240),(2020.59,228),(2020.66,205),(2020.74,195),(2020.80,190),(2020.88,170),(2020.98,158),(2021.05,145),
    (2021.10,125),(2021.13,115),(2021.20,118),(2021.23,132),(2021.34,140),(2021.44,160),(2021.52,150),(2021.55,140),(2021.62,135),(2021.70,135),(2021.79,148),(2021.83,145),(2021.90,150),(2021.97,135),
]
a04_zero_dates = [
    2022.02,2022.06,2022.10,2022.14,2022.18,2022.22,2022.26,2022.30,2022.34,2022.38,2022.42,2022.46,2022.50,2022.54,2022.58,2022.62,2022.66,2022.70,2022.74,2022.78,2022.82,2022.86,2022.90,2022.94,2022.98,
]


def px_rect(x0, y0, x1, y1, color, z=5):
    # rectangle given in image pixels, y going down
    r = Rectangle((x0 / W, 1 - y1 / H), (x1 - x0) / W, (y1 - y0) / H, transform=fig.transFigure,
                  facecolor=color, edgecolor="none", zorder=z)
    fig.add_artist(r)


plt.rcParams["font.family"] = ["Lato", "DejaVu Sans"]

fig = plt.figure(figsize=(W / 100, H / 100), dpi=100)
ax = fig.add_axes([92.4 / W, 1 - 969.7 / H, (2015 - 92.4) / W, (969.7 - 97.3) / H])

# frame around the picture
px_rect(0, 0, W, 52, "#7DC97F", 1)
px_rect(0, 0, W, 1.5, "#6E9A72", 2)
px_rect(0, 54, W, 57, "#D9D9D9", 1)
px_rect(0, 1021, W, 1024, "#D9D9D9", 1)
px_rect(2079, 54, 2081, 1024, "#D9D9D9", 1)
px_rect(0, 1030, W, H, "#8C8C8C", 1)
px_rect(0, 51, 22, 54, "#F2B800")
px_rect(0, 1023, 22, 1029, "#F2B800")
px_rect(2063, 51, 2083, 54, "#F2B800")
px_rect(2080, 51, 2083, 68, "#F2B800")
px_rect(2063, 1021, 2086, 1029, "#F2B800")
px_rect(2080, 967, 2086, 1029, "#F2B800")

fig.text(1009 / W, 1 - 28 / H, title, ha="center", va="center", fontsize=21.4, color="black", fontweight="bold")

ax.set_xlim(1997, 2023)
ax.set_ylim(-100, 600)
ax.set_xticks(x_ticks)
ax.set_xticklabels(x_labels)
ax.set_yticks(y_ticks)
ax.set_yticklabels(y_labels)
ax.tick_params(length=0, labelsize=13.5, labelcolor="#595959")
ax.tick_params(axis="x", pad=16)
ax.tick_params(axis="y", pad=14)
ax.grid(True, color="#D9D9D9", lw=1.8, zorder=0.5)
ax.set_axisbelow(True)
for s in ["top", "right"]:
    ax.spines[s].set_visible(False)
for s in ["left", "bottom"]:
    ax.spines[s].set_color("#BFBFBF")
    ax.spines[s].set_linewidth(1.6)
ax.axhline(0, color="#BFBFBF", lw=1.8, zorder=1)

# white boxes behind the chart title and the legend hide the grid there
for (x0, y0, x1, y1) in [(415, 90, 1664, 163), (1702, 182, 2030, 421)]:
    ax.add_patch(Rectangle((x0 / W, 1 - y1 / H), (x1 - x0) / W, (y1 - y0) / H, transform=fig.transFigure,
                           facecolor="white", edgecolor="none", zorder=1.5, clip_on=False))

a04_all = a04 + a04_more
a07_all = a07 + a07_more
a10_all = a10 + a10_more
a04_x = [p[0] for p in a04_all] + a04_zero_dates
a04_y = [p[1] for p in a04_all] + [0] * len(a04_zero_dates)
a07_x = [p[0] for p in a07_all]
a07_y = [p[1] for p in a07_all]
a10_x = [p[0] for p in a10_all] + a10_zero_dates
a10_y = [p[1] for p in a10_all] + [0] * len(a10_zero_dates)

ax.plot(a04_x, a04_y, ls="none", marker="+", ms=8.5, mew=1.1, color="#FFC000", zorder=3, clip_on=False, label="Rendement_A04")
ax.plot(a07_x, a07_y, ls="none", marker="+", ms=7.4, mew=2.1, color="#0070C0", zorder=4, clip_on=False, label="Rendement_A07")
ax.plot(a10_x, a10_y, ls="none", marker="+", ms=7.4, mew=2.1, color="#FF0000", zorder=5, clip_on=False, label="Rendement_A10")

fig.text(1041 / W, 1 - 100 / H, subtitle_1, ha="center", va="center", fontsize=18, color="#505050")
fig.text(1039 / W, 1 - 142 / H, subtitle_2, ha="center", va="center", fontsize=18, color="#505050")

leg = ax.legend(loc="center left", bbox_to_anchor=(1745 / W, 1 - 302 / H), bbox_transform=fig.transFigure,
                frameon=False, fontsize=18.5, labelspacing=2.05, handletextpad=0.1, handlelength=1.0,
                markerscale=0.7, borderpad=0, borderaxespad=0, labelcolor="#595959")
leg.set_zorder(6)

fig.savefig("out.png", dpi=100)
